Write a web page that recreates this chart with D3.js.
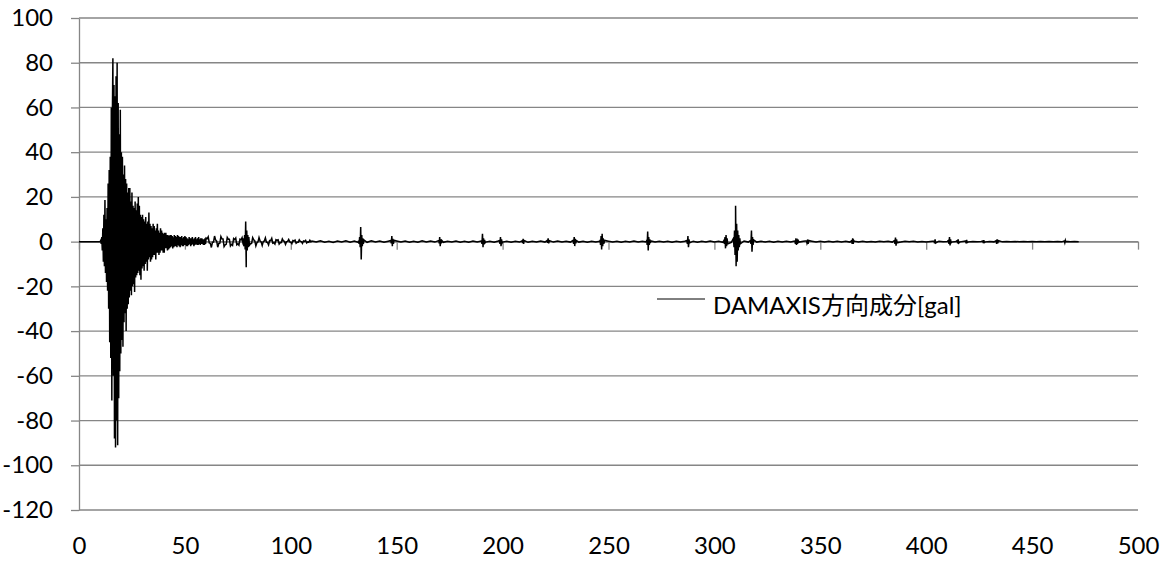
<!DOCTYPE html>
<html><head><meta charset="utf-8">
<script src="https://cdn.jsdelivr.net/npm/d3@7"></script>
<style>body{margin:0;background:#fff}svg{display:block}text{font-family:Lato,"Noto Sans CJK JP",sans-serif;fill:#000}</style>
</head><body><svg id="c" width="1166" height="562"></svg>
<script>
// ---- data ----
const xTicks = [0,50,100,150,200,250,300,350,400,450,500];
const yTicks = [-120,-100,-80,-60,-40,-20,0,20,40,60,80,100];
const seriesName = "DAMAXIS方向成分[gal]";

// quiet lead-in
const preTimes = [0];
const preValues = [0];

// main shock: starts t=10 s, sampled every 0.25 s
const mainStart = 10, mainStep = 0.25;
const mainValues = [
 0,0.5,-1,2,  -4,6,-9,12,  -11,18.6,-14,10,  -18,15,-22,26,  -30,32,-45,38,
 -52,60,-71,55,  82,-60,70,-88,  65,-92,74,-80,  80,-91,62,-70,  48,-58,59,-50,
 40,-44,38,-47,  30,-36,34,-32,  28,-40,26,-30,  22,-28,24,-25,  24,-22,18,-24,
 22,-20,16,-19,  15,-22.5,18,-16,  14,-15,17,-14,  20,-13,16,-15,  12,-17,11,-12,
 12,-11,10,-13,  9,-10,11,-9,  8,-13,9,-8,  13,-7,8,-9,  7,-8,6,-7,
 8,-6,7,-6,  5,-8,6,-5,  8,-5,5,-6,  4,-5,6,-4,  5,-4,4,-5,
 3.5,-5,4,-3,  4,-3,3,-4,  3,-3.5,2.5,-3,  3,-2.5,3,-2,  2.5,-3,2,-2.5,
 3,-2,2.5,-2,  2,-2.5,3,-1.5,  2.5,-2,2,-2.5,  2,-1.5,2.5,-2,  1.5,-2,2,-1.5,
 2.5,-1.5,2,-2,  1.5,-2,1,-1.5,  2,-1,1.5,-2,  1.5,-1.5,2,-1,  1,-2,1.5,-1.5,
 2,-1,1,-1.5,  1.5,-1.5,2,-1,  1,-1.5,1.5,-1,  1.5,-1,1,-1.5,  1,-1.5,1.5,-1
];

// early coda: starts t=60 s, sampled every 0.5 s
const codaStart = 60, codaStep = 0.5;
const codaValues = [
 1.6,1.3,2.2,-0.6,-0.8,-2.6,  -0.3,-0.2,2.5,0.8,0.2,-2.5,  -0.8,-0.7,2.3,1.3,1.2,-2.2,
 -1.4,-1.2,1.9,1.1,1.1,-1.9,  -1.2,-1.7,1.4,0.9,1.6,-1.4,  -1,-1.6,1.1,0.8,1.8,-1.1,
 -0.9,-1.8,1.4,1,1.2,-1.6,  -0.9,-0.8,1.8,0.8,0.3,-1.9,  -0.5,-0.1,1.8,0.3,-0.1,-1.7,
 0,0.3,1.7,-0.2,-0.4,-1.5,  0.5,0.5,1.5,-0.7,-0.5,-1.1,  0.9,0.6,0.8,-1.1,-0.5,-0.4,
 1.2,0.3,0.1,-1.2,0,0.1,  1,-0.1,-0.3,-0.9,0.5,0.3,  0.7,-0.7,-0.3,-0.3,0.8,0.1,
 0,-0.8,0.3,0.1,0.6,-0.6,  -0.1,-0.3,0.6,-0.1
];

// late coda: starts t=110 s, sampled every 2 s
const lateStart = 110, lateStep = 2;
const lateValues = [
 0.3,-0.2,0.4,-0.3,0.2,-0.4,0.3,-0.2,0.4,-0.3,
 0.3,-0.4,0.2,-0.3,0.4,-0.2,0.3,-0.3,0.2,-0.4,
 0.3,-0.2,0.3,-0.3,0.2,-0.3,0.4,-0.2,0.3,-0.2,
 0.3,-0.3,0.2,-0.2,0.3,-0.3,0.2,-0.3,0.3,-0.2,
 0.3,-0.2,0.2,-0.3,0.3,-0.2,0.2,-0.3,0.2,-0.2,
 0.2,-0.3,0.2,-0.2,0.3,-0.2,0.2,-0.2,0.3,-0.2,
 0.2,-0.2,0.3,-0.2,0.2,-0.3,0.2,-0.2,0.2,-0.2,
 0.2,-0.2,0.2,-0.3,0.2,-0.2,0.3,-0.2,0.2,-0.2,
 0.3,-0.2,0.2,-0.2,0.2,-0.3,0.2,-0.2,0.2,-0.2,
 0.2,-0.3,0.2,-0.2,0.3,-0.2,0.2,-0.3,0.4,-0.3,
 0.4,-0.3,0.3,-0.2,0.3,-0.2,0.2,-0.2,0.2,-0.3,
 0.2,-0.2,0.2,-0.2,0.3,-0.2,0.2,-0.2,0.2,-0.2,
 0.2,-0.2,0.2,-0.2,0.2,-0.2,0.2,-0.2,0.2,-0.2,
 0.2,-0.2,0.1,-0.2,0.2,-0.1,0.2,-0.2,0.1,-0.2,
 0.2,-0.1,0.2,-0.2,0.1,-0.2,0.1,-0.1,0.2,-0.1,
 0.1,-0.2,0.1,-0.1,0.2,-0.1,0.1,-0.1,0.1,-0.1,
 0.1,-0.1,0.1,-0.1,0.1,-0.1,0.1,-0.1,0.1,-0.1,
 0.1,-0.1,0.1,-0.1,0.1,-0.1,0.1,-0.1,0.1,-0.1,
 0.1,0
];

// aftershock bursts: start time (s), sampled every 0.25 s
const burstStep = 0.25;
const burstStarts = [77.2,132,147.2,169.8,190,198.5,209.2,221,233.3,246,268,287,304.5,309,317,338,343.5,364.8,385,403.7,410.5,414.6,418.6,426.7,433,465.2];
const burstValues = [
 [0.8,-1,1.5,-2,3,-3.5,9,-11.5,5,-4,3,-2.5,2,-1.5],
 [0.5,-1,2,-2.5,6.5,-8,3,-2,1.5,-1,0.8],
 [0.5,-0.8,2.5,-2,1.2,-1,0.6],
 [0.5,-0.8,2,-2,1,-0.8,0.5],
 [0.6,-1,3.5,-2.5,1.5,-1.2,0.8,-0.5],
 [0.5,-1,2,-2,1,-0.6],
 [0.4,-0.6,1.2,-1,0.5],
 [0.5,-0.5,1.5,-0.8,0.5],
 [0.6,-1,2,-2,1.2,-0.8,0.5],
 [0.8,-1.5,2.5,-3.5,3.5,-2,1.5,-1,0.6],
 [0.8,-1.5,4.5,-4,2,-1.5,1,-0.6],
 [0.5,-1,2.5,-2.5,1,-0.6],
 [0.5,-1,2,-3,3,-2,1.5,-1],
 [1.5,-2.5,5,-6,16,-11,8,-9,5,-4,3,-2.5,1.5,-1],
 [0.5,-1,5,-4.5,2,-1.5,0.8],
 [0.5,-1,1.5,-1.5,1,-1,0.6],
 [0.4,-0.8,1,-1,0.5],
 [0.4,-1,1.5,-1,0.5],
 [0.5,-1,1.8,-1.8,1,-0.5],
 [0.3,-0.8,1,-0.6],
 [0.5,-1,2,-1.7,1,-0.5],
 [0.4,-0.8,1,-0.6],
 [0.3,-0.8,0.8,-0.4],
 [0.3,-0.6,0.7,-0.4],
 [0.4,-1,1,-0.8,0.5],
 [0.3,-0.5,0.5,-0.3]
];

// ---- assemble samples ----
const pts = [];
preTimes.forEach((t,i)=>pts.push([t,preValues[i]]));
mainValues.forEach((v,i)=>pts.push([mainStart+i*mainStep,v]));
codaValues.forEach((v,i)=>pts.push([codaStart+i*codaStep,v]));
lateValues.forEach((v,i)=>pts.push([lateStart+i*lateStep,v]));
burstStarts.forEach((s,k)=>burstValues[k].forEach((v,i)=>pts.push([s+i*burstStep,v])));
pts.sort((a,b)=>a[0]-b[0]);

// ---- chart ----
const svg = d3.select("#c");
const L=79, R=1138, T=18, B=510;
const x = d3.scaleLinear().domain([0,500]).range([L,R]);
const y = d3.scaleLinear().domain([-120,100]).range([B,T]);
const grid = "#868686";
const fmt = d => String(d);

// y axis
const ya = svg.append("g").attr("transform",`translate(${L},0)`)
  .call(d3.axisLeft(y).tickValues(yTicks).tickSize(8).tickFormat(fmt).tickSizeOuter(0));
ya.select(".domain").attr("stroke",grid).attr("stroke-width",1.3);
ya.selectAll(".tick line").attr("stroke",grid).attr("stroke-width",1.3);
ya.selectAll(".tick text").attr("x",-26).attr("font-size",24).attr("font-family","Lato");

// horizontal gridlines
svg.append("g").selectAll("line").data(yTicks).join("line")
  .attr("x1",L).attr("x2",R).attr("y1",d=>y(d)).attr("y2",d=>y(d))
  .attr("stroke",grid).attr("stroke-width",1.3);

// x axis at zero
const xa = svg.append("g").attr("transform",`translate(0,${y(0)})`)
  .call(d3.axisBottom(x).tickValues(xTicks).tickSize(8).tickFormat("").tickSizeOuter(0));
xa.select(".domain").attr("stroke",grid).attr("stroke-width",1.3);
xa.selectAll(".tick line").attr("stroke",grid).attr("stroke-width",1.3);

// x labels at bottom
const xb = svg.append("g").attr("transform",`translate(0,${B})`)
  .call(d3.axisBottom(x).tickValues(xTicks).tickSize(0).tickFormat(fmt));
xb.select(".domain").remove();
xb.selectAll(".tick text").attr("dy",0).attr("y",44).attr("font-size",24).attr("font-family","Lato");

// series
const line = d3.line().x(d=>x(d[0])).y(d=>y(d[1]));
svg.append("path").datum(pts).attr("d",line)
  .attr("fill","none").attr("stroke","#000").attr("stroke-width",1.5).attr("stroke-linejoin","miter");

// legend
svg.append("line").attr("x1",657).attr("x2",705).attr("y1",299).attr("y2",299)
  .attr("stroke","#000").attr("stroke-width",1);
svg.append("text").attr("x",713).attr("y",314).attr("font-size",24).text(seriesName);
</script></body></html>
